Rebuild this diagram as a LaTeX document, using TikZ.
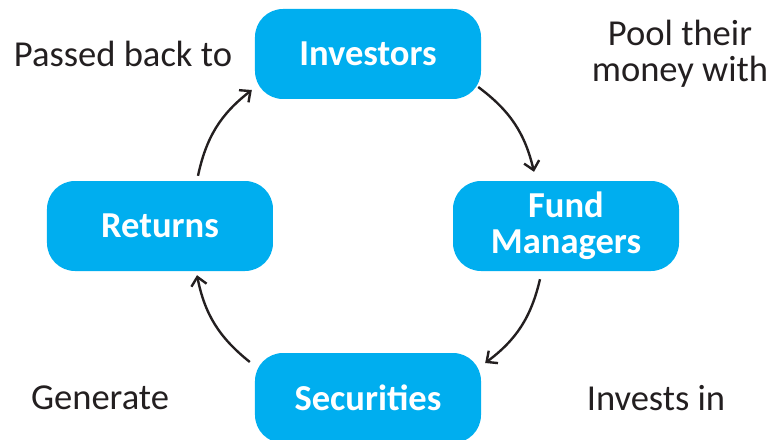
\documentclass[tikz,border=0pt]{standalone}
\usepackage{fontspec}
\setmainfont{Carlito}
\usetikzlibrary{positioning,arrows.meta}
\definecolor{boxblue}{HTML}{00AEEF}
\definecolor{inkgray}{HTML}{231F20}

\begin{document}
\begin{tikzpicture}[->, >={Straight Barb[length=6pt,width=11pt]}, line width=1.7pt, inkgray, node distance=4.3cm and 4.95cm, on grid, step box/.style={fill=boxblue, text=white, minimum width=5.65cm, minimum height=2.25cm, rounded corners=0.7cm, align=center, inner sep=0pt, font=\bfseries\fontsize{26}{25.5}\selectfont}, note/.style={text=inkgray, align=center, inner sep=0pt, font=\fontsize{26}{25.5}\selectfont}]
	\useasboundingbox (-9.2,1.35) rectangle (10.025,-9.65);

	\node[step box] (inv) {Investors};
	\node[step box] (fm) [below right=of inv]{Fund\\Managers};
	\node[step box] (ret) [below left=4.3cm and 5.2cm of inv]{Returns};
	\node[step box] (sec) [below=8.6cm of inv]{Securities};

	\node[note] (pass) [left=6.125cm of inv]{Passed back to};
	\node[note] (pool) [right=7.8cm of inv]{Pool their\\money with};
	\node[note] (gen) [left=6.7cm of sec]{Generate};
	\node[note] (inv2) [right=7.2cm of sec]{Invests in};

	\draw ([xshift=-0.1cm,yshift=-0.825cm]inv.east) to[bend left=20] ([xshift=-0.8cm,yshift=0.2cm]fm.north);
	\draw ([xshift=-0.65cm,yshift=-0.175cm]fm.south) to[bend left=20] ([xshift=0.075cm,yshift=0.875cm]sec.east);
	\draw ([xshift=-0.1cm,yshift=0.9cm]sec.west) to[bend left=20] ([xshift=0.925cm,yshift=-0.075cm]ret.south);
	\draw ([xshift=0.95cm,yshift=0.1cm]ret.north) to[bend left=20] ([xshift=-0.05cm,yshift=-0.9cm]inv.west);

\end{tikzpicture}
\end{document}
